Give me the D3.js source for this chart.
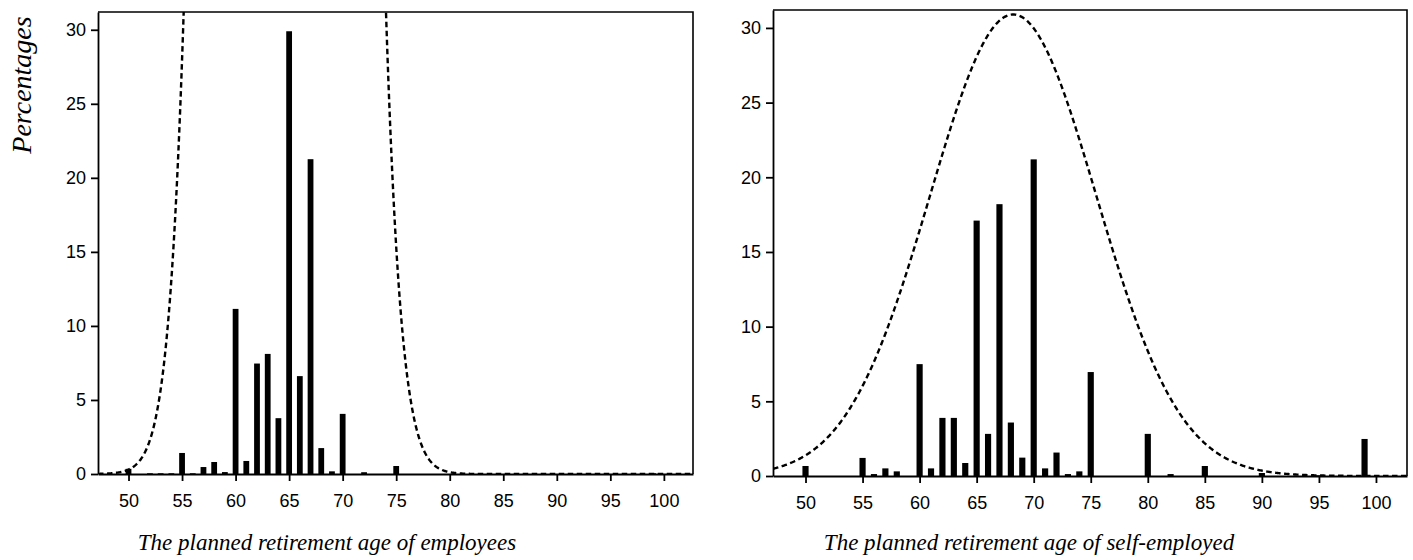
<!DOCTYPE html>
<html>
<head>
<meta charset="utf-8">
<script src="https://cdn.jsdelivr.net/npm/d3@7"></script>
<style>
  body { margin: 0; background: #fff; }
  .tick text { font-family: "Liberation Sans", Arial, sans-serif; font-size: 18px; fill: #000; }
  .title { font-family: "Liberation Serif", "Times New Roman", serif; font-style: italic; font-size: 23px; fill: #000; }
  .ylab { font-family: "Liberation Serif", "Times New Roman", serif; font-style: italic; font-size: 28px; fill: #000; }
</style>
</head>
<body>
<div id="chart"></div>
<script>
// planned retirement age -> percentage of respondents
const empAges = [50, 52, 53, 54, 55, 56, 57, 58, 59, 60, 61, 62, 63, 64, 65, 66, 67, 68, 69, 70, 72, 75, 99];
const empPct  = [0.35, 0.05, 0.05, 0.05, 1.42, 0.05, 0.47, 0.81, 0.13, 11.15, 0.88, 7.46, 8.11, 3.77, 29.9, 6.61, 21.26, 1.75, 0.18, 4.06, 0.12, 0.54, 0.05];

const selfAges = [50, 55, 56, 57, 58, 60, 61, 62, 63, 64, 65, 66, 67, 68, 69, 70, 71, 72, 73, 74, 75, 80, 82, 85, 90, 95, 99];
const selfPct  = [0.67, 1.21, 0.13, 0.51, 0.31, 7.49, 0.51, 3.89, 3.89, 0.87, 17.1, 2.82, 18.2, 3.58, 1.23, 21.2, 0.51, 1.57, 0.13, 0.31, 6.96, 2.82, 0.13, 0.67, 0.2, 0.05, 2.48];

// fitted normal curves (mean, sd, peak height) as drawn
const empFit  = [64.6, 3.65, 889];
const selfFit = [68.2, 7.3, 30.9];

const xTicks = [50, 55, 60, 65, 70, 75, 80, 85, 90, 95, 100];
const yTicks = [0, 5, 10, 15, 20, 25, 30];
const xDomain = [47.15, 102.72];
const yDomain = [0, 31.2];

const W = 1413, H = 560;
const svg = d3.select('#chart').append('svg')
  .attr('width', W)
  .attr('height', H);

function drawPanel(id, box, ages, pct, fit, title, titleX) {
  let x = d3.scaleLinear().domain(xDomain).range([box.left, box.right]);
  let y = d3.scaleLinear().domain(yDomain).range([box.bottom, box.top]);

  let g = svg.append('g');

  g.append('clipPath').attr('id', 'clip' + id)
    .append('rect')
      .attr('x', box.left).attr('y', box.top)
      .attr('width', box.right - box.left)
      .attr('height', box.bottom - box.top);

  // bars
  g.selectAll('rect.bar')
    .data(ages)
    .enter().append('rect')
      .attr('class', 'bar')
      .attr('x', (d) => x(d - 0.27))
      .attr('width', (d) => x(d + 0.27) - x(d - 0.27))
      .attr('y', (d, i) => y(pct[i]))
      .attr('height', (d, i) => y(0) - y(pct[i]))
      .attr('fill', '#000');

  // normal curve
  let pts = d3.range(xDomain[0], xDomain[1] + 0.05, 0.05).map(a => {
    let z = (a - fit[0]) / fit[1];
    return [a, fit[2] * Math.exp(-0.5 * z * z)];
  });
  let line = d3.line()
    .x(d => x(d[0]))
    .y(d => y(Math.min(d[1], 40)));
  g.append('path')
    .datum(pts)
    .attr('clip-path', 'url(#clip' + id + ')')
    .attr('d', line)
    .attr('fill', 'none')
    .attr('stroke', '#000')
    .attr('stroke-width', 2.4)
    .attr('stroke-dasharray', '5.5,3.5');

  // frame top / right
  g.append('path')
    .attr('d', 'M' + box.left + ',' + box.top + 'H' + box.right + 'V' + box.bottom)
    .attr('fill', 'none')
    .attr('stroke', '#000')
    .attr('stroke-width', 1.6);

  let xAxis = d3.axisBottom(x).tickValues(xTicks).tickSize(7).tickSizeOuter(0).tickPadding(13);
  let yAxis = d3.axisLeft(y).tickValues(yTicks).tickSize(7).tickSizeOuter(0).tickPadding(5);

  let gx = g.append('g')
    .attr('transform', 'translate(0,' + box.bottom + ')')
    .call(xAxis);
  let gy = g.append('g')
    .attr('transform', 'translate(' + box.left + ',0)')
    .call(yAxis);
  [gx, gy].forEach(a => {
    a.attr('font-family', null).attr('font-size', null);
    a.selectAll('path, line').attr('stroke', '#000').attr('stroke-width', 1.8);
  });

  g.append('text')
    .attr('class', 'title')
    .attr('x', titleX)
    .attr('y', 550)
    .attr('text-anchor', 'middle')
    .text(title);
}

drawPanel('L', {left: 98, right: 693, top: 12, bottom: 474},
  empAges, empPct, empFit, 'The planned retirement age of employees', 327);
drawPanel('R', {left: 773, right: 1407, top: 10, bottom: 476},
  selfAges, selfPct, selfFit, 'The planned retirement age of self-employed', 1029);

svg.append('text')
  .attr('class', 'ylab')
  .attr('transform', 'translate(31,85) rotate(-90)')
  .attr('text-anchor', 'middle')
  .text('Percentages');
</script>
</body>
</html>
